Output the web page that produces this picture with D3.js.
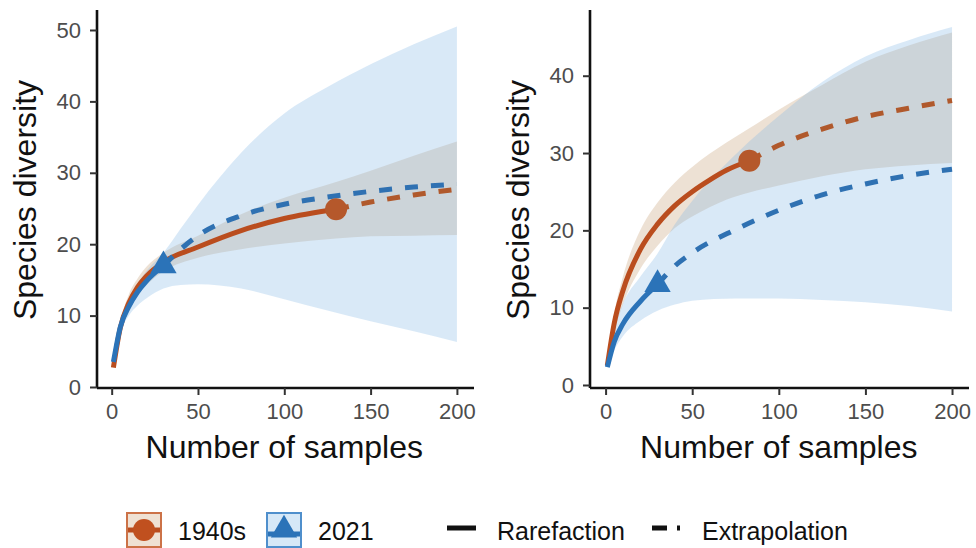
<!DOCTYPE html>
<html>
<head>
<meta charset="utf-8">
<script src="https://cdn.jsdelivr.net/npm/d3@7.9.0/dist/d3.min.js"></script>
<style>
  body { margin: 0; background: #fff; }
  svg { display: block; }
  text { font-family: "Liberation Sans", Arial, Helvetica, sans-serif; }
</style>
</head>
<body>
<svg id="chart" width="976" height="548"></svg>
<script>
// ---- data ----
const xTicks = [0, 50, 100, 150, 200];
const leftYTicks = [0, 10, 20, 30, 40, 50];
const rightYTicks = [0, 10, 20, 30, 40];
const groupLabels = ["1940s", "2021"];
const typeLabels = ["Rarefaction", "Extrapolation"];

// left panel, 1940s
const leftOldX  = [1, 5, 10, 15, 20, 30, 50, 75, 100, 130, 150, 175, 200];
const leftOldY  = [2.7, 8.3, 11.8, 14.0, 15.5, 17.5, 19.6, 21.9, 23.6, 24.9, 25.9, 26.9, 27.7];
const leftOldLo = [2.7, 7.6, 10.6, 12.8, 14.2, 16.2, 18.1, 19.3, 20.1, 20.8, 21.1, 21.2, 21.3];
const leftOldHi = [2.7, 9.0, 13.0, 15.2, 16.8, 18.8, 21.2, 24.2, 26.5, 28.7, 30.3, 32.4, 34.4];
const leftOldObs = 130;

// left panel, 2021
const leftNewX  = [1, 5, 10, 15, 20, 30, 40, 50, 75, 100, 125, 150, 175, 200];
const leftNewY  = [3.5, 8.4, 11.3, 13.3, 14.8, 17.0, 19.3, 21.2, 24.0, 25.6, 26.6, 27.4, 28.0, 28.4];
const leftNewLo = [3.5, 7.6, 10.0, 11.4, 12.4, 13.8, 14.3, 14.4, 13.8, 12.3, 10.7, 9.2, 7.8, 6.3];
const leftNewHi = [3.5, 9.2, 12.2, 14.4, 16.2, 18.8, 22.2, 25.5, 32.8, 38.3, 42.0, 45.2, 48.0, 50.5];
const leftNewObs = 30;

// right panel, 1940s
const rightOldX  = [1, 5, 10, 20, 30, 40, 50, 60, 70, 83, 100, 125, 150, 175, 200];
const rightOldY  = [2.5, 8.0, 12.2, 17.5, 20.8, 23.2, 25.0, 26.5, 27.8, 29.0, 31.0, 33.1, 34.7, 35.8, 36.8];
const rightOldLo = [2.5, 6.8, 10.4, 15.0, 18.0, 20.3, 21.8, 23.0, 24.0, 24.9, 25.8, 27.0, 27.9, 28.4, 28.7];
const rightOldHi = [2.5, 9.2, 14.0, 20.0, 23.6, 26.2, 28.2, 29.9, 31.4, 33.2, 35.6, 38.8, 41.8, 43.9, 45.6];
const rightOldObs = 83;

// right panel, 2021
const rightNewX  = [1, 5, 10, 20, 30, 40, 50, 75, 100, 125, 150, 175, 200];
const rightNewY  = [2.3, 5.6, 7.9, 10.8, 13.0, 15.4, 17.1, 20.1, 22.6, 24.6, 26.0, 27.1, 27.9];
const rightNewLo = [2.3, 4.5, 6.3, 8.3, 9.6, 10.4, 10.9, 11.2, 11.2, 11.0, 10.7, 10.2, 9.5];
const rightNewHi = [2.3, 7.2, 10.5, 14.0, 17.0, 20.8, 23.8, 29.8, 34.8, 39.2, 42.5, 44.6, 46.3];
const rightNewObs = 30;

// ---- styling ----
const colors = {
  oldLine: "#ba4d1e", oldDash: "#b0592c", oldPoint: "#b5582b", oldFill: "#c39b70",
  newLine: "#2b73b8", newDash: "#2f71b2", newPoint: "#2b73b8", newFill: "#80b6e4"
};
const tickColor = "#4d4d4d";

const svg = d3.select("#chart");

function pack(xs, ys, lo, hi) {
  return xs.map((x, i) => ({ x, y: ys[i], lo: lo[i], hi: hi[i] }));
}

const panels = [
  {
    xRange: [97, 474], xDomain: [-8.5, 209.9],
    yRange: [388, 10], yDomain: [-0.14, 52.8],
    yTicks: leftYTicks, yTitleX: 36,
    series: [
      { pts: pack(leftOldX, leftOldY, leftOldLo, leftOldHi), obs: leftOldObs, kind: "old" },
      { pts: pack(leftNewX, leftNewY, leftNewLo, leftNewHi), obs: leftNewObs, kind: "new" }
    ]
  },
  {
    xRange: [590, 969], xDomain: [-9, 209.8],
    yRange: [388, 10], yDomain: [-0.39, 48.5],
    yTicks: rightYTicks, yTitleX: 529,
    series: [
      { pts: pack(rightOldX, rightOldY, rightOldLo, rightOldHi), obs: rightOldObs, kind: "old" },
      { pts: pack(rightNewX, rightNewY, rightNewLo, rightNewHi), obs: rightNewObs, kind: "new" }
    ]
  }
];

panels.forEach((p) => {
  const x = d3.scaleLinear().domain(p.xDomain).range(p.xRange);
  const y = d3.scaleLinear().domain(p.yDomain).range(p.yRange);
  const g = svg.append("g");

  const area = d3.area().curve(d3.curveMonotoneX)
    .x((d) => x(d.x)).y0((d) => y(d.lo)).y1((d) => y(d.hi));
  const line = d3.line().curve(d3.curveMonotoneX)
    .x((d) => x(d.x)).y((d) => y(d.y));

  // ribbons
  p.series.forEach((s) => {
    g.append("path")
      .attr("d", area(s.pts))
      .attr("fill", colors[s.kind + "Fill"])
      .attr("fill-opacity", 0.3);
  });

  // lines
  p.series.forEach((s) => {
    const rare = s.pts.filter((d) => d.x <= s.obs);
    const extra = s.pts.filter((d) => d.x >= s.obs);
    g.append("path")
      .attr("d", line(rare))
      .attr("fill", "none")
      .attr("stroke", colors[s.kind + "Line"])
      .attr("stroke-width", 5);
    g.append("path")
      .attr("d", line(extra))
      .attr("fill", "none")
      .attr("stroke", colors[s.kind + "Dash"])
      .attr("stroke-width", 5)
      .attr("stroke-dasharray", "13 13");
  });

  // observed points
  p.series.forEach((s) => {
    const d = s.pts.find((q) => q.x === s.obs);
    if (s.kind === "old") {
      g.append("circle")
        .attr("cx", x(d.x)).attr("cy", y(d.y)).attr("r", 11)
        .attr("fill", colors.oldPoint);
    } else {
      g.append("path")
        .attr("d", d3.symbol(d3.symbolTriangle, 300)())
        .attr("transform", `translate(${x(d.x)},${y(d.y)})`)
        .attr("fill", colors.newPoint);
    }
  });

  // axes
  const xAxis = g.append("g").attr("transform", `translate(0,${p.yRange[0]})`)
    .call(d3.axisBottom(x).tickValues(xTicks).tickSize(7).tickPadding(8));
  const yAxis = g.append("g").attr("transform", `translate(${p.xRange[0]},0)`)
    .call(d3.axisLeft(y).tickValues(p.yTicks).tickSize(7).tickPadding(9));
  [xAxis, yAxis].forEach((a) => {
    a.select(".domain").attr("stroke", "#111").attr("stroke-width", 2.6)
      .attr("d", a === xAxis
        ? `M${p.xRange[0]},0H${p.xRange[1]}`
        : `M0,${p.yRange[0]}V${p.yRange[1]}`);
    a.selectAll(".tick line").attr("stroke", "#333").attr("stroke-width", 2);
    a.selectAll(".tick text")
      .attr("fill", tickColor)
      .style("font-size", "22px")
      .style("font-family", '"Liberation Sans", Arial, sans-serif');
  });

  // titles
  g.append("text")
    .attr("x", (x(0) + x(200)) / 2).attr("y", 458)
    .attr("text-anchor", "middle")
    .style("font-size", "32px").attr("fill", "#111")
    .text("Number of samples");
  g.append("text")
    .attr("transform", `translate(${p.yTitleX},200) rotate(-90)`)
    .attr("text-anchor", "middle")
    .style("font-size", "32px").attr("fill", "#111")
    .text("Species diversity");
});

// ---- legend ----
const legend = svg.append("g");
const keyY = 530;
const groupKeys = [
  { x: 127, kind: "old", textX: 178 },
  { x: 267, kind: "new", textX: 318 }
];
groupKeys.forEach((k, i) => {
  legend.append("rect")
    .attr("x", k.x).attr("y", keyY - 17).attr("width", 34).attr("height", 34)
    .attr("fill", k.kind === "old" ? "#efe1d3" : "#d6e8f7")
    .attr("stroke", k.kind === "old" ? "#cc7247" : "#4f8fcc")
    .attr("stroke-width", 2);
  legend.append("line")
    .attr("x1", k.x + 1).attr("x2", k.x + 33)
    .attr("y1", keyY + (k.kind === "old" ? 0 : 4)).attr("y2", keyY + (k.kind === "old" ? 0 : 4))
    .attr("stroke", colors[k.kind + "Line"]).attr("stroke-width", 5);
  if (k.kind === "old") {
    legend.append("circle").attr("cx", k.x + 17).attr("cy", keyY).attr("r", 11)
      .attr("fill", "#c0501f");
  } else {
    legend.append("path")
      .attr("d", d3.symbol(d3.symbolTriangle, 300)())
      .attr("transform", `translate(${k.x + 17},${keyY})`)
      .attr("fill", colors.newPoint);
  }
  legend.append("text")
    .attr("x", k.textX).attr("y", keyY + 10)
    .style("font-size", "25px").attr("fill", "#111")
    .text(groupLabels[i]);
});

legend.append("line")
  .attr("x1", 447).attr("x2", 476).attr("y1", keyY - 2).attr("y2", keyY - 2)
  .attr("stroke", "#111").attr("stroke-width", 5);
legend.append("text")
  .attr("x", 497).attr("y", keyY + 10)
  .style("font-size", "25px").attr("fill", "#111")
  .text(typeLabels[0]);
legend.append("line")
  .attr("x1", 652).attr("x2", 680).attr("y1", keyY - 2).attr("y2", keyY - 2)
  .attr("stroke", "#111").attr("stroke-width", 5)
  .attr("stroke-dasharray", "15 10 3 10");
legend.append("text")
  .attr("x", 702).attr("y", keyY + 10)
  .style("font-size", "25px").attr("fill", "#111")
  .text(typeLabels[1]);
</script>
</body>
</html>
